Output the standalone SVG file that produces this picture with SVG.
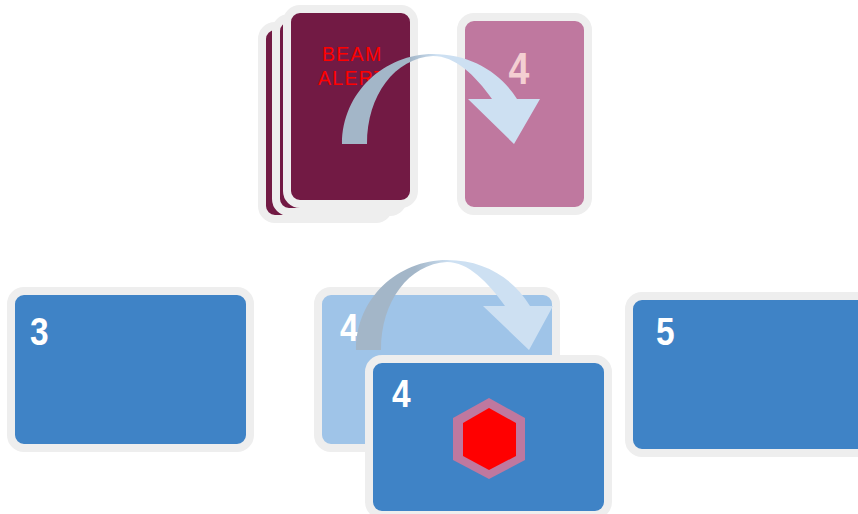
<svg xmlns="http://www.w3.org/2000/svg" width="858" height="514" viewBox="0 0 858 514">
<style>
.c{stroke:#eeeeee;stroke-width:8}
.m{fill:#721a44}
.p{fill:#bf789f}
.b{fill:#3f83c6}
.l{fill:#9fc4e8}
.n{font-family:"Liberation Sans",Arial,sans-serif;font-weight:bold;fill:#fff;font-size:38px}
.a{font-family:"Liberation Sans",Arial,sans-serif;fill:#f00;font-size:19.5px;letter-spacing:1.3px}
</style>
<defs>
<linearGradient id="g1" gradientUnits="userSpaceOnUse" x1="342" y1="0" x2="517" y2="0"><stop offset="0.39" stop-color="#a3b6c8"/><stop offset="0.54" stop-color="#cde0f2"/></linearGradient>
<linearGradient id="g2" gradientUnits="userSpaceOnUse" x1="356" y1="0" x2="530" y2="0"><stop offset="0.34" stop-color="#a3b6c8"/><stop offset="0.54" stop-color="#cde0f2"/></linearGradient>
</defs>
<g id="stack-back"><rect class="c m" x="262" y="26" width="127" height="193" rx="13"/></g>
<g id="stack-mid"><rect class="c m" x="276" y="18" width="127" height="194" rx="13"/></g>
<g id="beam-card"><rect class="c m" x="287" y="9" width="127" height="195" rx="13"/>
<text class="a" x="322" y="61">BEAM</text><text class="a" x="318" y="85">ALERT</text></g>
<g id="pink-card"><rect class="c p" x="461" y="17" width="127" height="194" rx="13"/>
<text transform="translate(519 84) scale(.85 1)" text-anchor="middle" font-family="Liberation Sans,sans-serif" font-weight="bold" font-size="44" fill="#f4cfd2">4</text></g>
<g id="card-3"><rect class="c b" x="11" y="291" width="239" height="157" rx="13"/><text class="n" transform="translate(30 345) scale(.88 1)">3</text></g>
<g id="card-4-ghost"><rect class="c l" x="318" y="291" width="238" height="157" rx="13"/><text class="n" transform="translate(340 341) scale(.88 1)">4</text></g>
<g id="card-5"><rect class="c b" x="629" y="296" width="248" height="157" rx="13"/><text class="n" transform="translate(656 345) scale(.88 1)">5</text></g>
<g id="connectors">
<path fill="url(#g1)" d="M342,144C342,92 385,54 433,54C470,54 500,72 517,99H540L514,144L468,99H492C475,75 455,56 433,56C395,58 367,95 367,144Z"/>
<path fill="url(#g2)" d="M356,350C356,298 398,260 447,260C484,260 513,278 530,306H553L529,350L483,306H505C488,282 468,262 447,262C409,264 381,301 381,350Z"/>
</g>
<g id="card-4"><rect class="c b" x="369" y="359" width="239" height="156" rx="13"/><text class="n" transform="translate(392 407) scale(.88 1)">4</text>
<polygon fill="#bf789f" points="489,398 525,418 525,460 489,479 453,460 453,418"/>
<polygon fill="#f00" points="489,408 516,423 516,456 489,470 463,456 463,423"/></g>
</svg>
